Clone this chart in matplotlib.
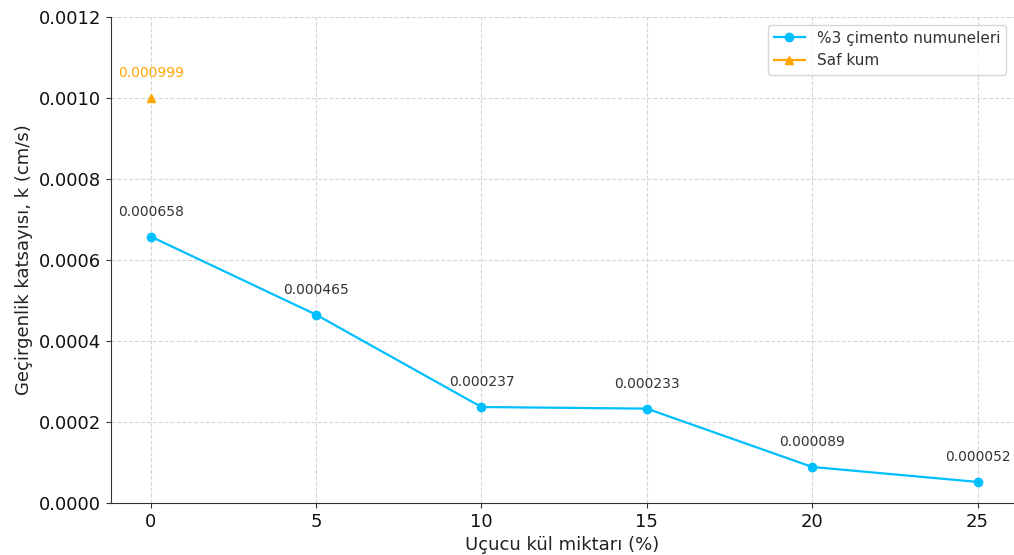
import numpy as np
import matplotlib.pyplot as plt

# Veriler
ucucu_kul = [0, 5, 10, 15, 20, 25]
k_cimento = [0.000658, 0.000465, 0.000237, 0.000233, 0.000089, 0.000052]
saf_kum_x = [0]
saf_kum_k = [0.000999]

fig = plt.figure(figsize=(10.14, 5.55), dpi=100)
ax = fig.add_axes([111 / 1014, 52 / 555, 903 / 1014, 486 / 555])

ax.plot(ucucu_kul, k_cimento, color='#00BFFF', marker='o', markersize=6,
        linewidth=1.6, label='%3 çimento numuneleri')
ax.plot(saf_kum_x, saf_kum_k, color='#FFA500', marker='^', markersize=6,
        linewidth=1.6, label='Saf kum')

for x, k in zip(ucucu_kul, k_cimento):
    ax.annotate(f'{k:.6f}', (x, k), textcoords='offset points', xytext=(0, 18),
                ha='center', va='center', fontsize=10, color='#333333')
for x, k in zip(saf_kum_x, saf_kum_k):
    ax.annotate(f'{k:.6f}', (x, k), textcoords='offset points', xytext=(0, 18),
                ha='center', va='center', fontsize=10, color='#FFA500')

ax.set_xlim(-1.2, 26.1)
ax.set_ylim(0, 0.0012)
ax.set_xticks([0, 5, 10, 15, 20, 25])
ax.set_yticks(np.arange(0, 0.00121, 0.0002))
ax.set_yticklabels([f'{v:.4f}' for v in np.arange(0, 0.00121, 0.0002)])
ax.tick_params(labelsize=13, colors='#333333', labelcolor='#111111')
ax.set_xlabel('Uçucu kül miktarı (%)', fontsize=13, color='#222222')
ax.set_ylabel('Geçirgenlik katsayısı, k (cm/s)', fontsize=13, color='#222222')

ax.spines['top'].set_visible(False)
ax.spines['right'].set_visible(False)
ax.spines['left'].set_color('#333333')
ax.spines['bottom'].set_color('#333333')
ax.grid(True, linestyle='--', color='#cccccc', alpha=0.8)
ax.legend(loc='upper right', fontsize=11, labelcolor='#333333')

plt.savefig('out.png', dpi=100)
